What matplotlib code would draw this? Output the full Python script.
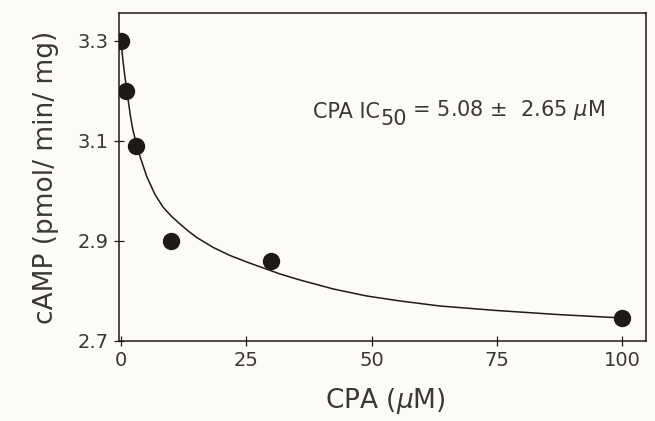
import matplotlib
matplotlib.use("Agg")
import matplotlib.pyplot as plt

# measured data points
cpa_um = [0, 1, 3, 10, 30, 100]
camp = [3.30, 3.20, 3.09, 2.90, 2.86, 2.746]

# fitted curve
curve_x = [0, 0.45, 1.0, 1.4, 1.86, 2.33, 2.85, 3.79, 5.13, 6.78, 8.44, 10.1, 11.77, 13.4, 15.1,
           18.41, 21.74, 25.07, 28.39, 31.72, 35.7, 42.35, 49.0, 55.7, 63.6, 74.9, 87.0, 100]
curve_y = [3.300, 3.255, 3.212, 3.184, 3.151, 3.124, 3.103, 3.069, 3.029, 2.993, 2.967, 2.949,
           2.934, 2.920, 2.907, 2.887, 2.871, 2.858, 2.846, 2.834, 2.822, 2.804, 2.790, 2.780,
           2.770, 2.761, 2.753, 2.746]

xticks = [0, 25, 50, 75, 100]
yticks = [2.7, 2.9, 3.1, 3.3]
ytick_labels = ["2.7", "2.9", "3.1", "3.3"]

plt.rcParams['font.family'] = ['DejaVu Sans']
plt.rcParams['mathtext.fontset'] = 'dejavusans'

bg = '#fcfbf7'
ink = '#1e1a1a'
txt = '#3a3737'
fig = plt.figure(figsize=(6.55, 4.21), dpi=100, facecolor=bg)
ax = fig.add_axes([119/655, 1 - 341/421, (646-119)/655, (341-13)/421], facecolor=bg)

ax.plot(curve_x, curve_y, color=ink, lw=1.1, zorder=2)
ax.plot(cpa_um, camp, 'o', color=ink, ms=11.5, zorder=3)

ax.set_xlim(-0.4, 104.7)
ax.set_ylim(2.7, 3.356)
ax.set_xticks(xticks)
ax.set_xticklabels([str(t) for t in xticks])
ax.set_yticks(yticks)
ax.set_yticklabels(ytick_labels)

for s in ax.spines.values():
    s.set_color(ink)
    s.set_linewidth(1.1)
ax.tick_params(direction='inout', length=7, width=0.9, colors=ink, labelsize=14,
               labelcolor=txt, pad=4)

ax.set_xlabel("CPA ($\\mu$M)", fontsize=19, color=txt, va='center')
ax.xaxis.set_label_coords(0.505, -0.183)
ax.set_ylabel("cAMP (pmol/ min/ mg)", fontsize=19, color=txt, va='center')
ax.yaxis.set_label_coords(-0.1385, 0.498)

fs = 15
t1 = ax.text(0.368, 0.698, "CPA IC", transform=ax.transAxes,
             fontsize=fs, color=txt, ha='left', va='center')
t2 = ax.annotate("50", xy=(1, 0), xycoords=t1, xytext=(0, -5), textcoords='offset points',
                 fontsize=fs, color=txt, ha='left', va='bottom')
t3 = ax.annotate(" = 5.08 \u00b1  2.65 $\\mu$M", xy=(1, 0), xycoords=t2, xytext=(0, 5),
                 textcoords='offset points', fontsize=fs, color=txt, ha='left', va='bottom')

fig.savefig("out.png", dpi=100, facecolor=bg)
